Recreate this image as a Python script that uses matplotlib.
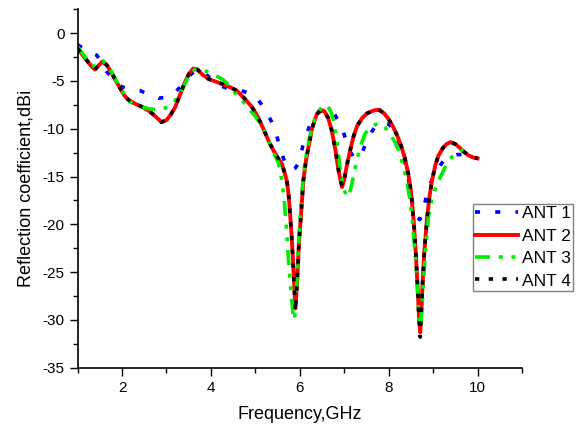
import matplotlib
matplotlib.use("Agg")
import matplotlib.pyplot as plt

plt.rcParams['font.family'] = ['Liberation Sans', 'DejaVu Sans']
plt.rcParams['axes.unicode_minus'] = False

# ANT 1 (blue, dotted)
freq_ant1 = [1.00, 1.20, 1.43, 1.55, 1.65, 1.80, 1.99, 2.20, 2.40, 2.60, 2.82, 3.00,
             3.16, 3.30, 3.42, 3.55, 3.68, 3.83, 4.00, 4.20, 4.40, 4.62, 4.80, 5.00,
             5.13, 5.26, 5.36, 5.45, 5.56, 5.64, 5.72, 5.82, 5.90, 5.97, 6.03, 6.08,
             6.15, 6.22, 6.32, 6.42, 6.55, 6.65, 6.76, 6.87, 6.97, 7.04, 7.12, 7.22,
             7.32, 7.42, 7.51, 7.62, 7.72, 7.85, 8.00, 8.12, 8.22, 8.30, 8.37, 8.45,
             8.52, 8.58, 8.64, 8.70, 8.77, 8.86, 8.94, 9.01, 9.12, 9.24, 9.40, 9.55,
             9.65, 9.75]
s11_ant1 = [-1.2, -1.8, -2.3, -3.1, -4.0, -4.8, -5.6, -5.9, -6.0, -6.4, -6.8, -6.7,
            -6.3, -5.7, -5.1, -4.3, -3.8, -4.0, -4.8, -5.5, -5.8, -5.9, -6.2, -6.6,
            -7.4, -8.4, -9.2, -10.2, -12.1, -13.2, -14.0, -14.3, -14.1, -13.6, -12.6, -11.5,
            -10.6, -9.7, -8.9, -8.3, -8.0, -8.0, -8.3, -9.2, -10.2, -11.2, -12.3, -13.0,
            -13.1, -12.3, -11.2, -10.3, -9.6, -9.4, -9.5, -10.2, -11.3, -12.5, -13.6, -15.4,
            -17.4, -18.6, -19.3, -19.5, -18.7, -16.8, -15.7, -15.0, -14.1, -13.3, -12.9, -12.7,
            -12.7, -12.6]

# ANT 2 (red, solid)
freq_ant2 = [1.00, 1.15, 1.30, 1.39, 1.47, 1.55, 1.65, 1.75, 1.85, 1.95, 2.05, 2.15,
             2.30, 2.45, 2.60, 2.75, 2.89, 3.00, 3.10, 3.20, 3.30, 3.40, 3.50, 3.60,
             3.70, 3.80, 3.95, 4.13, 4.30, 4.45, 4.58, 4.75, 4.92, 5.05, 5.18, 5.30,
             5.41, 5.50, 5.60, 5.67, 5.71, 5.75, 5.78, 5.82, 5.86, 5.90, 5.94, 5.98,
             6.02, 6.08, 6.14, 6.20, 6.28, 6.38, 6.47, 6.56, 6.64, 6.72, 6.80, 6.88,
             6.95, 7.00, 7.06, 7.13, 7.21, 7.29, 7.40, 7.51, 7.65, 7.78, 7.90, 8.00,
             8.10, 8.20, 8.28, 8.36, 8.44, 8.50, 8.56, 8.61, 8.65, 8.68, 8.71, 8.74,
             8.77, 8.80, 8.86, 8.92, 8.98, 9.05, 9.12, 9.22, 9.30, 9.39, 9.50, 9.60,
             9.69, 9.80, 9.90, 10.00]
s11_ant2 = [-1.6, -2.5, -3.4, -3.8, -3.4, -3.0, -3.3, -4.0, -4.9, -5.7, -6.5, -7.0,
            -7.4, -7.7, -8.1, -8.7, -9.3, -9.1, -8.5, -7.7, -6.5, -5.3, -4.3, -3.7,
            -3.8, -4.3, -4.8, -5.1, -5.4, -5.7, -6.0, -6.8, -7.7, -8.7, -10.0, -11.3,
            -12.3, -13.0, -13.7, -14.8, -15.5, -17.0, -18.8, -21.5, -25.0, -28.8, -26.0, -22.0,
            -19.5, -15.4, -13.3, -11.8, -9.9, -8.5, -8.0, -8.2, -8.9, -10.2, -12.2, -14.6,
            -16.1, -15.3, -13.8, -12.3, -10.8, -9.7, -8.9, -8.4, -8.1, -8.0, -8.4, -9.0,
            -9.8, -10.8, -11.8, -13.0, -14.7, -16.5, -19.5, -23.0, -26.5, -29.5, -31.3, -28.5,
            -25.5, -23.0, -19.5, -17.0, -15.3, -13.8, -12.8, -12.0, -11.6, -11.4, -11.6, -12.0,
            -12.4, -12.8, -13.0, -13.1]

# ANT 3 (green, dash-dot-dot)
freq_ant3 = [1.00, 1.17, 1.30, 1.40, 1.50, 1.58, 1.70, 1.85, 2.00, 2.14, 2.30, 2.45,
             2.60, 2.80, 2.93, 3.05, 3.19, 3.35, 3.49, 3.60, 3.72, 3.90, 4.10, 4.28,
             4.42, 4.55, 4.70, 4.85, 5.00, 5.10, 5.18, 5.30, 5.42, 5.52, 5.60, 5.65,
             5.70, 5.75, 5.80, 5.85, 5.88, 5.92, 5.96, 6.00, 6.06, 6.12, 6.20, 6.30,
             6.40, 6.50, 6.60, 6.68, 6.76, 6.84, 6.91, 6.98, 7.05, 7.10, 7.17, 7.25,
             7.35, 7.47, 7.60, 7.77, 7.90, 8.00, 8.12, 8.22, 8.32, 8.41, 8.48, 8.54,
             8.60, 8.65, 8.69, 8.72, 8.75, 8.79, 8.84, 8.90, 8.98, 9.09, 9.20, 9.32,
             9.45, 9.54, 9.65, 9.76, 9.82]
s11_ant3 = [-1.4, -2.5, -3.3, -3.5, -3.0, -2.9, -3.5, -4.8, -6.0, -7.1, -7.5, -7.7,
            -7.9, -8.0, -7.9, -7.7, -7.1, -5.9, -4.6, -3.9, -3.7, -4.0, -4.4, -4.9,
            -5.5, -6.3, -7.0, -7.9, -8.7, -9.4, -10.0, -11.3, -12.6, -13.6, -15.5, -17.5,
            -20.5, -24.1, -27.0, -29.5, -30.0, -27.5, -23.0, -19.5, -16.0, -13.5, -11.3, -9.4,
            -8.3, -7.7, -7.5, -8.0, -9.1, -11.5, -14.3, -16.2, -17.0, -17.1, -15.8, -14.0,
            -12.0, -10.5, -9.8, -9.4, -9.7, -10.4, -11.2, -12.2, -13.8, -15.5, -17.5, -20.0,
            -23.5, -27.0, -30.0, -30.8, -28.5, -25.5, -22.0, -19.0, -17.2, -15.7, -14.7, -13.5,
            -12.8, -12.7, -12.3, -11.9, -11.6]

# ANT 4 (black, dotted) - sits on top of ANT 2
freq_ant4 = freq_ant2
s11_ant4 = [-1.6, -2.5, -3.4, -3.8, -3.4, -3.0, -3.3, -4.0, -4.9, -5.7, -6.5, -7.0,
            -7.4, -7.7, -8.1, -8.7, -9.3, -9.1, -8.5, -7.7, -6.5, -5.3, -4.3, -3.7,
            -3.8, -4.3, -4.8, -5.1, -5.4, -5.7, -6.0, -6.8, -7.7, -8.7, -10.0, -11.3,
            -12.3, -13.0, -13.7, -14.8, -15.5, -17.0, -18.8, -21.5, -25.2, -29.1, -26.0, -22.0,
            -19.5, -15.4, -13.3, -11.8, -9.9, -8.5, -8.0, -8.2, -8.9, -10.2, -12.2, -14.6,
            -16.0, -15.3, -13.8, -12.3, -10.8, -9.7, -8.9, -8.4, -8.1, -8.0, -8.4, -9.0,
            -9.8, -10.8, -11.8, -13.0, -14.7, -16.5, -19.5, -23.0, -26.5, -29.8, -31.8, -28.5,
            -25.5, -23.0, -19.5, -17.0, -15.3, -13.8, -12.8, -12.0, -11.6, -11.4, -11.6, -12.0,
            -12.4, -12.8, -13.0, -13.1]

fig = plt.figure(figsize=(5.76, 4.25), dpi=100)
ax = fig.add_axes([0.1347, 0.1348, 0.7716, 0.8433])

ax.plot(freq_ant1, s11_ant1, color='#0000ff', lw=2.6, dashes=(1.4, 4.2), label='ANT 1')
ax.plot(freq_ant2, s11_ant2, color='#ff0000', lw=2.8, label='ANT 2')
ax.plot(freq_ant3, s11_ant3, color='#00ee00', lw=2.6,
        dashes=(4.2, 2.4, 1.1, 2.4, 1.1, 2.4), label='ANT 3')
ax.plot(freq_ant4, s11_ant4, color='black', lw=2.6, dashes=(1.2, 2.6), label='ANT 4')

ax.set_xlim(1, 11)
ax.set_ylim(-35, 2.5)
ax.set_xticks([2, 4, 6, 8, 10])
ax.set_xticks([1, 3, 5, 7, 9, 11], minor=True)
ax.set_yticks([0, -5, -10, -15, -20, -25, -30, -35])
ax.set_yticks([2.5, -2.5, -7.5, -12.5, -17.5, -22.5, -27.5, -32.5], minor=True)
ax.tick_params(which='major', direction='out', length=6, width=1, labelsize=11)
ax.tick_params(which='minor', direction='out', length=3.5, width=1)

for side in ['top', 'right']:
    ax.spines[side].set_visible(False)
for side in ['left', 'bottom']:
    ax.spines[side].set_linewidth(1.2)

ax.set_xlabel('Frequency,GHz', fontsize=13, labelpad=8)
ax.set_ylabel('Reflection coefficient,dBi', fontsize=13, labelpad=6)

leg = ax.legend(loc='upper left', bbox_to_anchor=(0.821, 0.52),
                bbox_transform=fig.transFigure, borderaxespad=0,
                fontsize=12.5, handlelength=2.5, handletextpad=0.2,
                labelspacing=0.42, borderpad=0.12, fancybox=False,
                framealpha=1, edgecolor='#808080')
leg.get_frame().set_linewidth(1.0)

plt.savefig('out.png', dpi=100)
